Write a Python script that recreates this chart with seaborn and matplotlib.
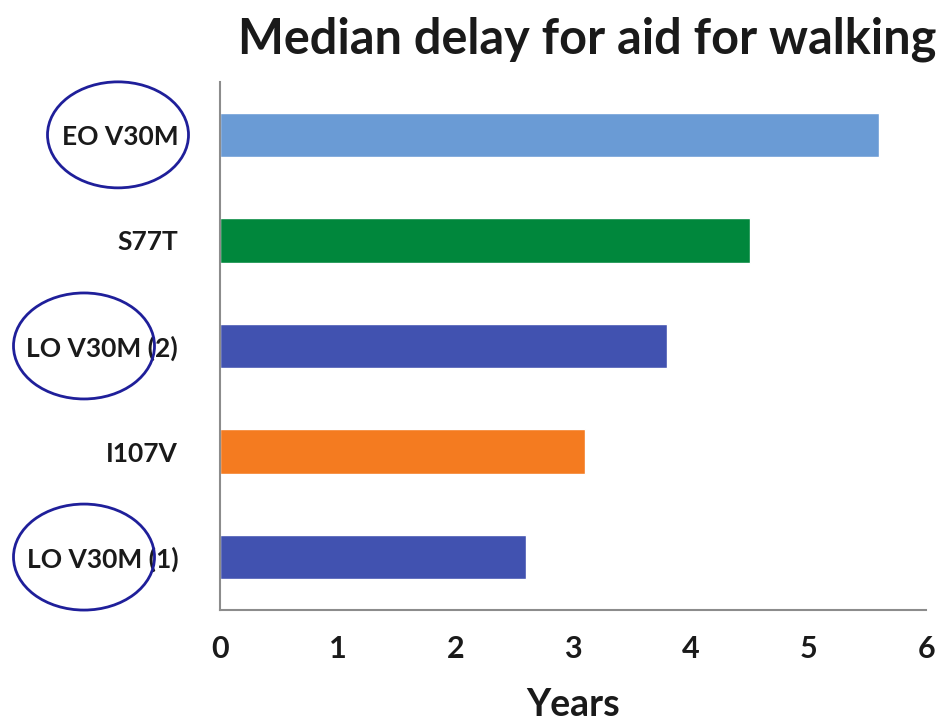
import matplotlib
matplotlib.use("Agg")
import matplotlib.pyplot as plt
from matplotlib.patches import Ellipse
import pandas as pd
import seaborn as sns

# data (top to bottom)
mutations = ['EO V30M', 'S77T', 'LO V30M (2)', 'I107V', 'LO V30M (1)']
years = [5.6, 4.5, 3.8, 3.1, 2.6]
bar_colors = ['#6A9BD5', '#00873C', '#4152B0', '#F47B20', '#4152B0']
circled = ['EO V30M', 'LO V30M (2)', 'LO V30M (1)']

df = pd.DataFrame({'mutation': mutations, 'years': years})

sns.set_style('white')
plt.rcParams['font.family'] = ['Lato', 'DejaVu Sans']

fig = plt.figure(figsize=(9.52, 7.2), dpi=100)
ax = fig.add_axes([0.231, 0.153, 0.742, 0.733])

sns.barplot(data=df, y='mutation', x='years', hue='mutation',
            palette=bar_colors, orient='h', width=0.42, legend=False, ax=ax,
            saturation=1)

ax.set_xlim(0, 6)
ax.set_ylim(4.5, -0.5)
ax.set_xticks(range(7))
ax.set_xticklabels([str(i) for i in range(7)], fontsize=22, fontweight='bold', color='#1a1a1a')
ax.set_yticks(range(len(mutations)))
ax.set_yticklabels(mutations, fontsize=19, fontweight='bold', color='#1a1a1a')
ax.set_yticks([i - 0.5 for i in range(len(mutations) + 1)], minor=True)
ax.tick_params(axis='y', which='major', length=0, pad=30)
ax.tick_params(axis='y', which='minor', length=6, color='#8C8C8C', width=1.2, direction='out')
ax.tick_params(axis='x', which='major', length=6, color='#8C8C8C', width=1.2, pad=12)

ax.set_xlabel('Years', fontsize=27, fontweight='bold', labelpad=18, color='#1a1a1a')
ax.set_ylabel('')
for side in ['top', 'right']:
    ax.spines[side].set_visible(False)
for side in ['left', 'bottom']:
    ax.spines[side].set_color('#8C8C8C')
    ax.spines[side].set_linewidth(1.5)

fig.text(0.617, 0.946, 'Median delay for aid for walking', ha='center', va='center',
         fontsize=35, fontweight='bold', color='#1a1a1a')

# hand-drawn style ellipses around the V30M labels
for lbl in circled:
    i = mutations.index(lbl)
    y_disp = ax.transData.transform((0, i))[1]
    y_fig = y_disp / fig.bbox.height
    x_c = 118 if lbl == 'EO V30M' else 84
    e = Ellipse((x_c / 952, y_fig), 141 / 952, 106 / 720, transform=fig.transFigure,
                fill=False, edgecolor='#1F1F9A', linewidth=2)
    fig.add_artist(e)

fig.savefig('out.png', dpi=100)
